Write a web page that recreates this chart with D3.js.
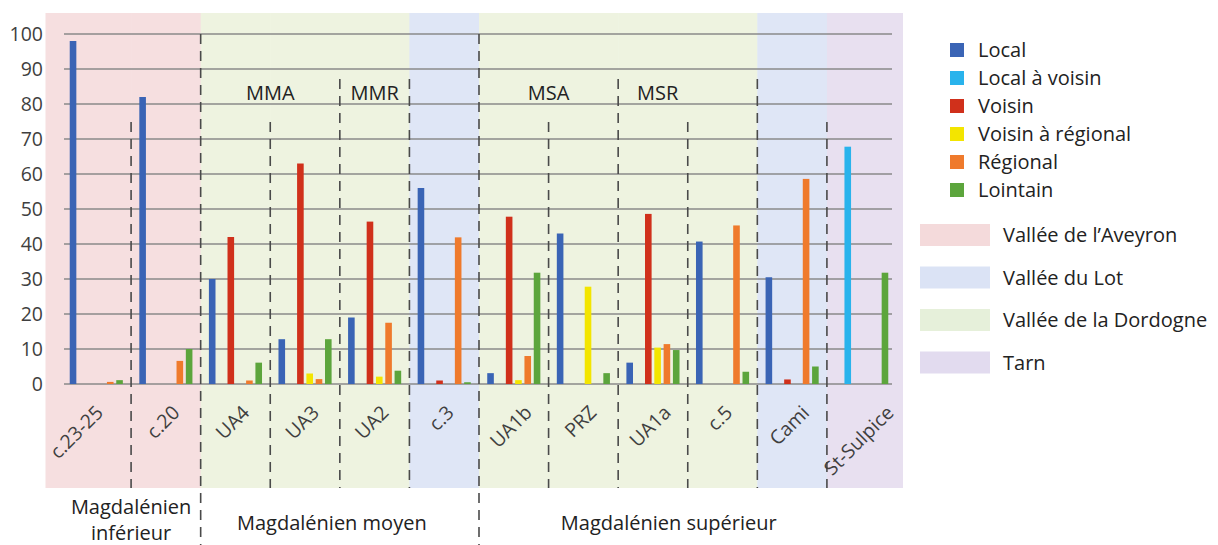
<!DOCTYPE html>
<html><head><meta charset="utf-8">
<script src="https://cdn.jsdelivr.net/npm/d3@7"></script>
<style>
html,body{margin:0;padding:0;background:#fff;}
svg{display:block;font-family:"Open Sans",sans-serif;}
</style></head>
<body>
<svg id="chart" width="1218" height="545"></svg>
<script>
// ---- data ----
const categories = ["c.23-25","c.20","UA4","UA3","UA2","c.3","UA1b","PRZ","UA1a","c.5","Cami","St-Sulpice"];
const seriesNames = ["Local","Local à voisin","Voisin","Voisin à régional","Régional","Lointain"];
const local          = [98, 82, 30, 12.8, 19, 56, 3.1, 43, 6.1, 40.7, 30.5, 0];
const localVoisin    = [0, 0, 0, 0, 0, 0, 0, 0, 0, 0, 0, 67.8];
const voisin         = [0, 0, 42, 63, 46.4, 1, 47.8, 0, 48.6, 0, 1.3, 0];
const voisinRegional = [0, 0, 0, 3, 2.1, 0, 1.1, 27.8, 10.4, 0, 0, 0];
const regional       = [0.6, 6.6, 1, 1.4, 17.5, 41.9, 8, 0, 11.4, 45.3, 58.6, 0];
const lointain       = [1.1, 10, 6.1, 12.8, 3.8, 0.5, 31.8, 3.1, 9.7, 3.5, 5, 31.8];
const seriesValues = [local, localVoisin, voisin, voisinRegional, regional, lointain];
const yTicks = [0,10,20,30,40,50,60,70,80,90,100];
const regionNames = ["Vallée de l’Aveyron","Vallée du Lot","Vallée de la Dordogne","Tarn"];
const categoryRegion = ["Vallée de l’Aveyron","Vallée de l’Aveyron","Vallée de la Dordogne","Vallée de la Dordogne","Vallée de la Dordogne","Vallée du Lot","Vallée de la Dordogne","Vallée de la Dordogne","Vallée de la Dordogne","Vallée de la Dordogne","Vallée du Lot","Tarn"];
const periodLabels = [["Magdalénien","inférieur"],["Magdalénien moyen"],["Magdalénien supérieur"]];
const periodStart = [0, 2, 6];
const periodEnd   = [1, 5, 11];
const subgroupLabels = ["MMA","MMR","MSA","MSR"];
const subgroupStart  = [2, 4, 6, 8];
const subgroupEnd    = [3, 4, 7, 9];

// ---- styles ----
const seriesColors = ["#3a64b5","#29b3ec","#d0301b","#f3e500","#ef7a2c","#5ca53c"];
const regionColors = {"Vallée de l’Aveyron":"#f6dfe0","Vallée du Lot":"#dfe6f6","Vallée de la Dordogne":"#eef3e0","Tarn":"#e8e0f0"};
const regionLegendColors = {"Vallée de l’Aveyron":"#f4dadb","Vallée du Lot":"#dbe3f5","Vallée de la Dordogne":"#e6f0da","Tarn":"#e2dbef"};
const textColor = "#3f3f3f";

const svg = d3.select("#chart");
const x = d3.scaleBand().domain(categories).range([61.5, 896.5]).padding(0);
const y = d3.scaleLinear().domain([0, 100]).range([384, 34]);
const xs = d3.scaleBand().domain(seriesNames).range([0, x.bandwidth()]).paddingInner(0).paddingOuter(0.74);

const bandTop = 13, bandBottom = 488, leftExtra = 16, rightExtra = 6;

// background bands
const bg = svg.append("g");
categories.forEach((c, i) => {
  let x0 = x(c), x1 = x(c) + x.bandwidth();
  if (i === 0) x0 -= leftExtra;
  if (i === categories.length - 1) x1 += rightExtra;
  bg.append("rect").attr("x", x0).attr("y", bandTop).attr("width", x1 - x0 + 0.5)
    .attr("height", bandBottom - bandTop).attr("fill", regionColors[categoryRegion[i]]);
});

// gridlines
const grid = svg.append("g");
yTicks.forEach(t => {
  grid.append("line").attr("x1", 64).attr("x2", 892).attr("y1", y(t)).attr("y2", y(t))
    .attr("stroke", "#8a8a8a").attr("stroke-width", 1.3);
});

// y axis labels
const yAxis = d3.axisLeft(y).tickValues(yTicks).tickSize(0).tickPadding(0);
const yg = svg.append("g").attr("transform", "translate(43,0)").call(yAxis);
yg.select(".domain").remove();
yg.selectAll("text").attr("font-size", 19.5).attr("fill", textColor).attr("font-family", "Open Sans");

// dividers
const fullB = new Set(), medB = new Set();
periodStart.forEach((s, i) => { if (s > 0) fullB.add(s - 1); if (periodEnd[i] < categories.length - 1) fullB.add(periodEnd[i]); });
subgroupStart.forEach((s, i) => { if (!fullB.has(s - 1)) medB.add(s - 1); if (!fullB.has(subgroupEnd[i])) medB.add(subgroupEnd[i]); });
const div = svg.append("g");
for (let b = 0; b < categories.length - 1; b++) {
  const bx = x(categories[b + 1]);
  let y1, y2;
  if (fullB.has(b)) { y1 = y(100); y2 = 545; }
  else if (medB.has(b)) { y1 = 79; y2 = bandBottom; }
  else { y1 = 122; y2 = bandBottom; }
  div.append("line").attr("x1", bx).attr("x2", bx).attr("y1", y1).attr("y2", y2)
    .attr("stroke", "#4a4a4a").attr("stroke-width", 1.6).attr("stroke-dasharray", "10,7");
}

// bars
const barW = 6.6;
const bars = svg.append("g");
seriesNames.forEach((s, si) => {
  bars.selectAll(null).data(categories.map((c, i) => ({c, v: seriesValues[si][i]})).filter(d => d.v > 0))
    .join("rect")
    .attr("x", d => x(d.c) + xs(s) + (xs.bandwidth() - barW) / 2)
    .attr("width", barW)
    .attr("y", d => y(d.v))
    .attr("height", d => y(0) - y(d.v))
    .attr("fill", seriesColors[si]);
});

// category labels (rotated -45°, start-anchored, placed so the rotated box is centred under the category)
const labelNudge = {"c.23-25": -17};
const lab = svg.append("g");
const capH = 14, R = Math.SQRT1_2;
categories.forEach(c => {
  const cx = x(c) + x.bandwidth() / 2 - 3 + (labelNudge[c] || 0);
  const t = lab.append("text").text(c).attr("font-size", 19.5).attr("fill", textColor);
  const L = t.node().getComputedTextLength();
  const boxH = (L + capH) * R;
  const cy = 404 + boxH / 2;
  // baseline midpoint: shift half cap height toward the text's "down" direction
  const bmx = cx + R * capH / 2, bmy = cy + R * capH / 2;
  const sx = bmx - R * L / 2, sy = bmy + R * L / 2;
  t.attr("transform", "translate(" + sx + "," + sy + ") rotate(-45)");
});

// subgroup labels
const subNudge = {"MSR": -30};
subgroupLabels.forEach((s, i) => {
  const cx = (x(categories[subgroupStart[i]]) + x(categories[subgroupEnd[i]]) + x.bandwidth()) / 2 + (subNudge[s] || 0);
  svg.append("text").text(s).attr("x", cx).attr("y", 93).attr("text-anchor", "middle")
    .attr("dy", "0.35em").attr("font-size", 20).attr("fill", "#222");
});

// period labels
const perNudge = [0, -8, -19];
periodLabels.forEach((lines, i) => {
  const cx = (x(categories[periodStart[i]]) + x(categories[periodEnd[i]]) + x.bandwidth()) / 2 + perNudge[i];
  const cy = lines.length === 1 ? 523 : 507;
  lines.forEach((ln, k) => {
    svg.append("text").text(ln).attr("x", cx).attr("y", cy + k * 26).attr("text-anchor", "middle")
      .attr("dy", "0.35em").attr("font-size", 20).attr("fill", "#222");
  });
});

// legend series
const lg = svg.append("g");
seriesNames.forEach((s, i) => {
  const cy = 50 + i * 28;
  lg.append("rect").attr("x", 950).attr("y", cy - 7).attr("width", 14).attr("height", 14).attr("fill", seriesColors[i]);
  lg.append("text").text(s).attr("x", 978).attr("y", cy).attr("dy", "0.35em")
    .attr("font-size", 20).attr("fill", "#222");
});
// legend regions
regionNames.forEach((r, i) => {
  const cy = 235 + i * 42.5;
  lg.append("rect").attr("x", 920).attr("y", cy - 11).attr("width", 70).attr("height", 22).attr("fill", regionLegendColors[r]);
  lg.append("text").text(r).attr("x", 1003).attr("y", cy).attr("dy", "0.35em")
    .attr("font-size", 20).attr("fill", "#222");
});
</script>
</body></html>
